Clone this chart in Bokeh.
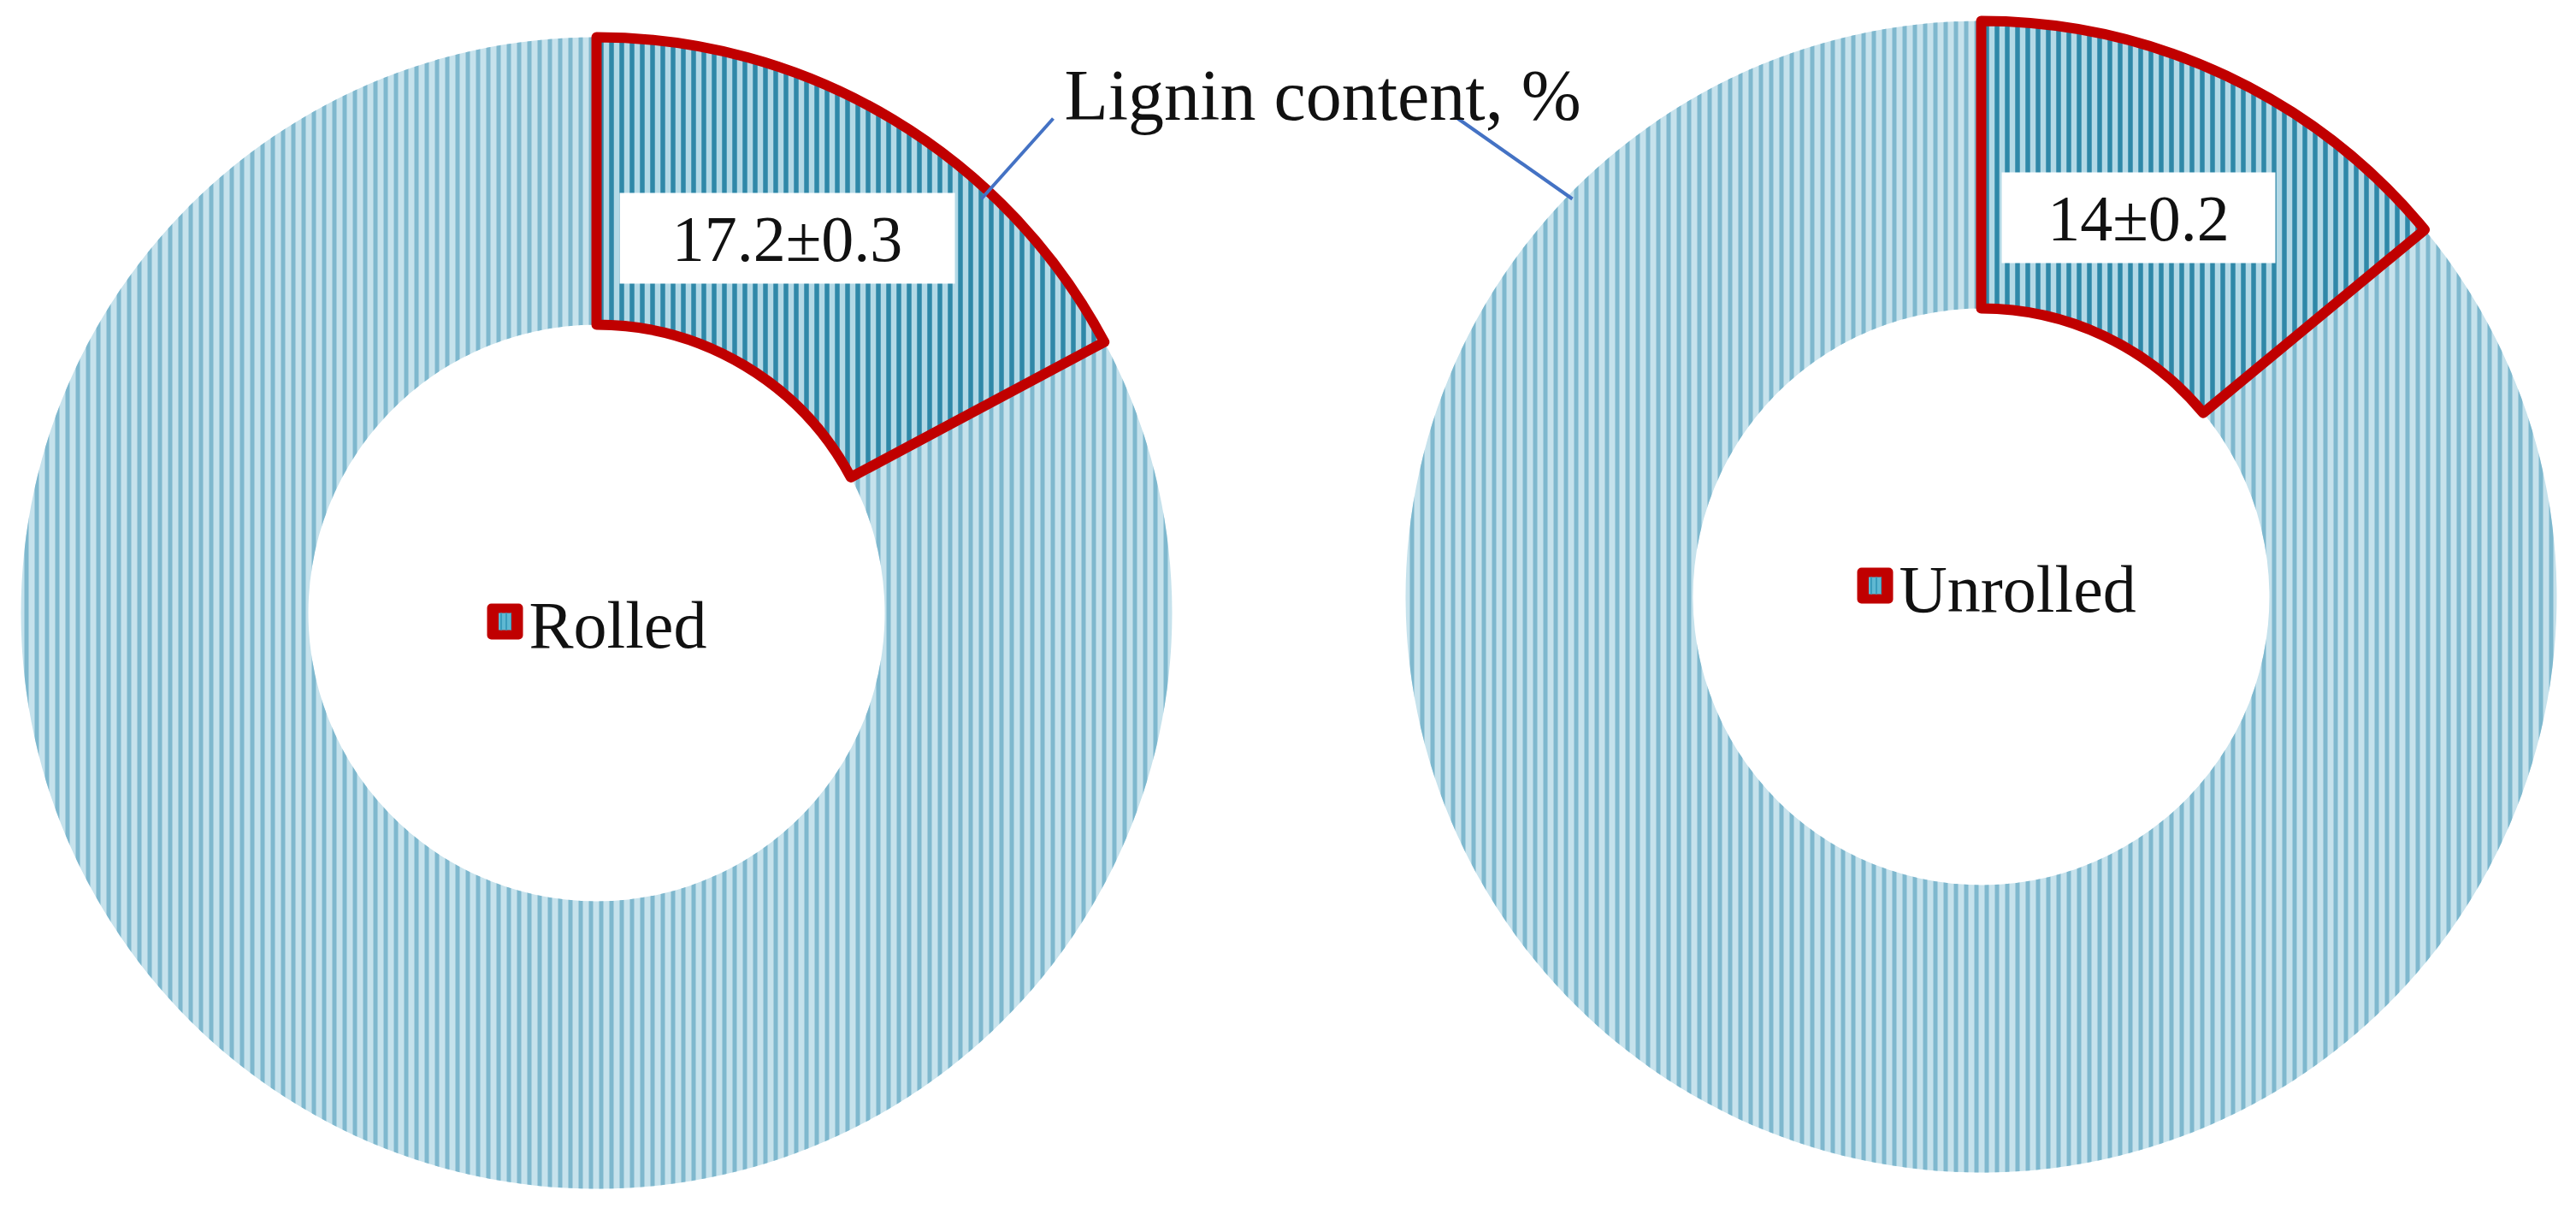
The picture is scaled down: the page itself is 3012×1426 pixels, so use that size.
import math
from bokeh.plotting import figure
from bokeh.models import Range1d
from bokeh.embed import file_html
from bokeh.resources import INLINE
from bokeh.core.properties import value

# ---- data ----
samples = ["Rolled", "Unrolled"]
lignin_pct = [17.2, 14.0]
lignin_err = [0.3, 0.2]
title_text = "Lignin content, %"

# ---- layout (window pixel coordinates) ----
W, H = 2996, 1410
def X(x):
    return x
def Y(y):
    return H - y

centers = [(697, 716), (2316, 697)]
R_OUT, R_IN = 673, 337
label_centers = [(920, 278), (2500, 254)]
label_boxes = [(392, 106), (320, 106)]
legend_marker = [(590, 726), (2192, 684)]
FONT = value("Liberation Serif")
FS = "76px"

p = figure(width=W, height=H, x_range=Range1d(0, W), y_range=Range1d(0, H),
           output_backend="svg", toolbar_location=None, min_border=0,
           x_axis_location=None, y_axis_location=None)
p.grid.visible = False
p.outline_line_color = None
p.background_fill_color = "white"
p.border_fill_color = "white"

for i, name in enumerate(samples):
    cx, cy = centers[i]
    frac = lignin_pct[i] / 100.0
    a0 = math.pi / 2
    a1 = math.pi / 2 - frac * 2 * math.pi
    # remainder (light)
    p.annular_wedge(x=[X(cx)], y=[Y(cy)], inner_radius=R_IN, outer_radius=R_OUT,
                    start_angle=a0, end_angle=a1 + 2 * math.pi, direction="anticlock",
                    fill_color="#c6e2ec", line_color=None,
                    hatch_pattern="vertical_line", hatch_color="#7fb8ce",
                    hatch_scale=12, hatch_weight=5)
    # lignin slice (dark, red outline)
    p.annular_wedge(x=[X(cx)], y=[Y(cy)], inner_radius=R_IN, outer_radius=R_OUT,
                    start_angle=a1, end_angle=a0, direction="anticlock",
                    fill_color="#b3d9e6", line_color="#C00000", line_width=12,
                    line_join="round",
                    hatch_pattern="vertical_line", hatch_color="#2f88a8",
                    hatch_scale=12, hatch_weight=5.5)
    # value label
    lx, ly = label_centers[i]
    bw, bh = label_boxes[i]
    p.rect(x=[X(lx)], y=[Y(ly)], width=bw, height=bh, fill_color="white", line_color=None)
    txt = f"{lignin_pct[i]:g}\u00b1{lignin_err[i]:g}"
    p.text(x=[X(lx)], y=[Y(ly)], text=[txt], text_font=FONT, text_font_size=FS,
           text_align="center", text_baseline="middle", text_color="#111111")
    # legend in centre
    mx, my = legend_marker[i]
    p.scatter(x=[X(mx)], y=[Y(my)], marker="square", size=32, fill_color="#C00000",
              line_color="#C00000", line_width=10, line_join="round")
    p.rect(x=[X(mx)], y=[Y(my)], width=15, height=20, fill_color="#5fb8d2", line_color=None,
           hatch_pattern="vertical_line", hatch_color="#3a9cbc", hatch_scale=6, hatch_weight=2)
    p.text(x=[X(mx + 28)], y=[Y(my + 4)], text=[name], text_font=FONT, text_font_size="78px",
           text_align="left", text_baseline="middle", text_color="#111111")

# leader lines and title
p.segment(x0=[X(1147), X(1838)], y0=[Y(232), Y(232)], x1=[X(1231), X(1704)], y1=[Y(138), Y(138)],
          line_color="#4472C4", line_width=4)
p.text(x=[X(1546)], y=[Y(111)], text=[title_text], text_font=FONT, text_font_size="84px",
       text_align="center", text_baseline="middle", text_color="#111111")

open("out.html", "w").write(file_html(p, INLINE))
